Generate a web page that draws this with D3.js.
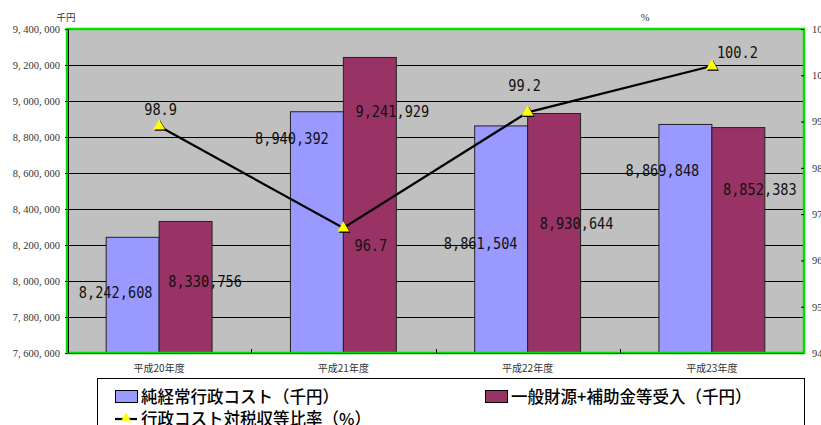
<!DOCTYPE html>
<html>
<head>
<meta charset="utf-8">
<script src="https://cdn.jsdelivr.net/npm/d3@7"></script>
<style>
  html, body { margin: 0; padding: 0; background: #ffffff; overflow: hidden; }
  svg { display: block; }
</style>
</head>
<body>
<svg id="chart" width="821" height="425"></svg>
<script>
// Fiscal years (平成20〜23年度)
const categories = ["平成20年度", "平成21年度", "平成22年度", "平成23年度"];

// 純経常行政コスト（千円）
const netCost = [8242608, 8940392, 8861504, 8869848];
// 一般財源+補助金等受入（千円）
const revenue = [8330756, 9241929, 8930644, 8852383];
// 行政コスト対税収等比率（%）
const ratio = [98.9, 96.7, 99.2, 100.2];

const seriesNames = ["純経常行政コスト（千円）", "一般財源+補助金等受入（千円）", "行政コスト対税収等比率（%）"];

// Axis ticks
const leftTicks = [7600000, 7800000, 8000000, 8200000, 8400000, 8600000, 8800000, 9000000, 9200000, 9400000];
const rightTicks = [94, 95, 96, 97, 98, 99, 100, 101];

// Hand-placed label nudges (px): [dx from bar centre, dy from bar top]
const costLabelNudge = [[-17, 61], [-25, 32], [-20.5, 123], [-23, 51.6]];
const revenueLabelNudge = [[19.5, 65.5], [22.5, 59.5], [22.5, 115.5], [21.5, 67.4]];
// [dx, dy] from the ratio marker
const ratioLabelNudge = [[1.5, -11], [27.5, 23], [-3, -21], [25.5, -8]];

const svg = d3.select("#chart");
const plot = { left: 67, top: 29, right: 804, bottom: 353 };

const COL_COST = "#9999FF";
const COL_REV = "#993366";
const COL_BG = "#C0C0C0";
const COL_FRAME = "#00E000";

const y = d3.scaleLinear().domain([7600000, 9400000]).range([plot.bottom, plot.top]);
const y2 = d3.scaleLinear().domain([94, 101]).range([plot.bottom, plot.top]);
const x0 = d3.scaleBand().domain(categories).range([plot.left, plot.right]).padding(0);
const x1 = d3.scaleBand().domain(["cost", "rev"]).range([0, x0.bandwidth()])
  .paddingInner(0).paddingOuter(0.74);

const numFmt = d3.formatLocale({ decimal: ".", thousands: ", ", grouping: [3], currency: ["", ""] }).format(",");
const labelFmt = d3.formatLocale({ decimal: ".", thousands: ",", grouping: [3], currency: ["", ""] }).format(",");

// Plot background
svg.append("rect")
  .attr("x", plot.left).attr("y", plot.top)
  .attr("width", plot.right - plot.left).attr("height", plot.bottom - plot.top)
  .attr("fill", COL_BG);

// Horizontal grid lines
svg.append("g")
  .selectAll("line")
  .data(leftTicks.slice(1, -1))
  .join("line")
  .attr("x1", plot.left).attr("x2", plot.right)
  .attr("y1", d => Math.round(y(d)) + 0.5).attr("y2", d => Math.round(y(d)) + 0.5)
  .attr("stroke", "#000").attr("stroke-width", 1);

// Bars
const groups = svg.append("g")
  .selectAll("g")
  .data(categories)
  .join("g")
  .attr("transform", d => `translate(${x0(d)},0)`);

groups.append("rect")
  .attr("x", x1("cost"))
  .attr("y", (d, i) => y(netCost[i]))
  .attr("width", x1.bandwidth())
  .attr("height", (d, i) => plot.bottom - y(netCost[i]))
  .attr("fill", COL_COST).attr("stroke", "#222").attr("stroke-width", 1);

groups.append("rect")
  .attr("x", x1("rev"))
  .attr("y", (d, i) => y(revenue[i]))
  .attr("width", x1.bandwidth())
  .attr("height", (d, i) => plot.bottom - y(revenue[i]))
  .attr("fill", COL_REV).attr("stroke", "#222").attr("stroke-width", 1);

// Plot frame
svg.append("rect")
  .attr("x", plot.left).attr("y", plot.top)
  .attr("width", plot.right - plot.left).attr("height", plot.bottom - plot.top)
  .attr("fill", "none").attr("stroke", COL_FRAME).attr("stroke-width", 2.5);

// Left axis
const leftAxis = d3.axisLeft(y).tickValues(leftTicks).tickFormat(numFmt).tickSize(3).tickPadding(5);
const gL = svg.append("g").attr("transform", `translate(${plot.left + 1},0)`).call(leftAxis);
gL.select(".domain").attr("stroke", "#000").attr("stroke-width", 1);
gL.selectAll("text").attr("font-family", "'Liberation Serif', serif").attr("font-size", 10.5).attr("fill", "#333");

// Right axis (inner ticks); labels run off the right edge of the page
const rightAxis = d3.axisRight(y2).tickValues(rightTicks).tickFormat(d3.format("d")).tickSizeInner(-3).tickSizeOuter(0).tickPadding(8);
const gR = svg.append("g").attr("transform", `translate(${plot.right},0)`).call(rightAxis);
gR.select(".domain").remove();
gR.selectAll("text").attr("font-family", "'Liberation Serif', serif").attr("font-size", 10.5).attr("fill", "#333");

// Bottom axis: short inner ticks at category boundaries
svg.append("line")
  .attr("x1", plot.left).attr("x2", plot.right)
  .attr("y1", plot.bottom + 0.5).attr("y2", plot.bottom + 0.5)
  .attr("stroke", "#1a5a1a").attr("stroke-width", 1);
svg.append("g")
  .selectAll("line")
  .data(categories.slice(1))
  .join("line")
  .attr("x1", d => Math.round(x0(d)) + 0.5).attr("x2", d => Math.round(x0(d)) + 0.5)
  .attr("y1", plot.bottom).attr("y2", plot.bottom - 4)
  .attr("stroke", "#000");

svg.append("g")
  .selectAll("text")
  .data(categories)
  .join("text")
  .attr("x", d => x0(d) + x0.bandwidth() / 2)
  .attr("y", plot.bottom + 19)
  .attr("text-anchor", "middle")
  .attr("font-family", "'Noto Sans CJK JP', sans-serif")
  .attr("font-size", 10)
  .attr("fill", "#333")
  .text(d => d);

// Axis units
svg.append("text").attr("x", 66).attr("y", 21).attr("text-anchor", "middle")
  .attr("font-family", "'Noto Sans CJK JP', sans-serif").attr("font-size", 9.5).attr("fill", "#333").text("千円");
svg.append("text").attr("x", 645).attr("y", 21).attr("text-anchor", "middle")
  .attr("font-family", "'Liberation Serif', serif").attr("font-size", 10.5).attr("fill", "#333").text("%");

// Bar value labels
function valueLabel(g, text, cx, baseline) {
  const chars = text.length;
  g.append("text")
    .attr("x", cx).attr("y", baseline)
    .attr("text-anchor", "middle")
    .attr("font-family", "'DejaVu Sans Mono', monospace")
    .attr("font-size", 16.5)
    .attr("textLength", chars * 8.2)
    .attr("lengthAdjust", "spacingAndGlyphs")
    .attr("fill", "#111")
    .text(text);
}
const labelsG = svg.append("g");
categories.forEach((c, i) => {
  const cxCost = x0(c) + x1("cost") + x1.bandwidth() / 2;
  const cxRev = x0(c) + x1("rev") + x1.bandwidth() / 2;
  valueLabel(labelsG, labelFmt(netCost[i]), cxCost + costLabelNudge[i][0], y(netCost[i]) + costLabelNudge[i][1]);
  valueLabel(labelsG, labelFmt(revenue[i]), cxRev + revenueLabelNudge[i][0], y(revenue[i]) + revenueLabelNudge[i][1]);
});

// Ratio line
const px = (d, i) => x0(categories[i]) + x0.bandwidth() / 2;
const line = d3.line().x((d, i) => px(d, i)).y(d => y2(d));
svg.append("path")
  .datum(ratio)
  .attr("d", line)
  .attr("fill", "none").attr("stroke", "#000").attr("stroke-width", 2.2);

const tri = d3.symbol().type(d3.symbolTriangle).size(60);
const markers = svg.append("g").selectAll("g").data(ratio).join("g")
  .attr("transform", (d, i) => `translate(${px(d, i)},${y2(d)})`);
markers.append("path").attr("d", tri).attr("transform", "translate(1.2,1.2)").attr("fill", "#000");
markers.append("path").attr("d", tri).attr("fill", "#FFFF00");

ratio.forEach((v, i) => {
  valueLabel(labelsG, d3.format(".1f")(v), px(v, i) + ratioLabelNudge[i][0], y2(v) + ratioLabelNudge[i][1]);
});

// Legend
const lg = svg.append("g");
lg.append("rect").attr("x", 97.5).attr("y", 378.5).attr("width", 707).attr("height", 70)
  .attr("fill", "#fff").attr("stroke", "#000").attr("stroke-width", 1);
const legendFont = "'Noto Sans CJK JP', sans-serif";
const legendSize = 16.5;
lg.append("rect").attr("x", 115.5).attr("y", 390.5).attr("width", 22).attr("height", 12)
  .attr("fill", COL_COST).attr("stroke", "#000");
lg.append("text").attr("x", 141).attr("y", 403).attr("font-family", legendFont).attr("font-size", legendSize)
  .attr("font-weight", 500).attr("fill", "#000").text(seriesNames[0]);
lg.append("rect").attr("x", 485.5).attr("y", 390.5).attr("width", 22).attr("height", 12)
  .attr("fill", COL_REV).attr("stroke", "#000");
lg.append("text").attr("x", 511).attr("y", 403).attr("font-family", legendFont).attr("font-size", legendSize)
  .attr("font-weight", 500).attr("fill", "#000").text(seriesNames[1]);
lg.append("line").attr("x1", 115).attr("x2", 137).attr("y1", 419).attr("y2", 419)
  .attr("stroke", "#000").attr("stroke-width", 2.2);
lg.append("path").attr("d", d3.symbol().type(d3.symbolTriangle).size(40))
  .attr("transform", "translate(126,418)").attr("fill", "#FFFF00");
lg.append("text").attr("x", 141).attr("y", 425).attr("font-family", legendFont).attr("font-size", legendSize)
  .attr("font-weight", 500).attr("fill", "#000").text(seriesNames[2]);
</script>
</body>
</html>
